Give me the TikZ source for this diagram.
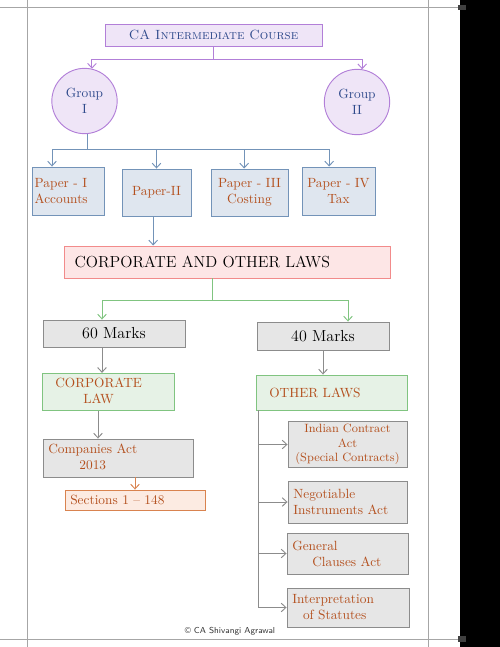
\documentclass[tikz,border=0pt]{standalone}
\usepackage{xcolor}
\usepackage{tikz}
\usetikzlibrary{shapes,arrows,arrows.meta,positioning,calc}

\definecolor{violetline}{HTML}{B27FD8}
\definecolor{violetfill}{HTML}{EFE5F7}
\definecolor{steelline}{HTML}{7393B8}
\definecolor{steelfill}{HTML}{DFE6EF}
\definecolor{redline}{HTML}{F28B8B}
\definecolor{redfill}{HTML}{FDE6E6}
\definecolor{greenline}{HTML}{80C480}
\definecolor{greenfill}{HTML}{E6F2E6}
\definecolor{greyline}{HTML}{8C8C8C}
\definecolor{greyfill}{HTML}{E6E6E6}
\definecolor{peachline}{HTML}{D9834F}
\definecolor{peachfill}{HTML}{FCEBE2}
\definecolor{inkblue}{HTML}{2F4A8C}
\definecolor{inkbrown}{HTML}{B4501E}

\begin{document}
\begin{tikzpicture}[x=0.75pt,y=-0.75pt,
    >={Straight Barb[length=3.5pt,width=6.5pt]},
    every node/.style={font=\normalsize, inner xsep=4pt, inner ysep=2pt},
    link/.style={line width=0.7pt},
    box/.style={draw, rectangle, line width=0.7pt, align=left, text=inkbrown},
    titlebox/.style={box, draw=violetline, fill=violetfill, text=inkblue, align=center},
    groupnode/.style={draw=violetline, fill=violetfill, circle, line width=0.7pt, inner sep=0pt, minimum size=49pt, text=inkblue, align=center},
    paperbox/.style={box, draw=steelline, fill=steelfill, inner xsep=2pt},
    lawbox/.style={box, draw=redline, fill=redfill, text=black, font=\large},
    markbox/.style={box, draw=greyline, fill=greyfill, text=black, font=\large, align=center},
    subbox/.style={box, draw=greenline, fill=greenfill},
    actbox/.style={box, draw=greyline, fill=greyfill},
    secbox/.style={box, draw=peachline, fill=peachfill},
    frame/.style={draw=black!35, line width=0.7pt}
]
\useasboundingbox (0,0) rectangle (500,647);

% page frame
\draw[frame] (0,7) -- (460,7);
\draw[frame] (0,639) -- (460,639);
\draw[frame] (27,0) -- (27,647);
\draw[frame] (428,0) -- (428,647);
\fill[black] (460,0) rectangle (500,647);
\fill[black!75] (458,5) rectangle (466,10);
\fill[black!75] (458,636) rectangle (466,642);

% course and groups
\node[titlebox, minimum width=162.75pt, minimum height=16.5pt] (course) at (213.5,35) {\textsc{CA Intermediate Course}};
\node[groupnode] (g1) at (84.5,101) {Group\\I};
\node[groupnode] (g2) at (357,102) {Group\\II};

% papers
\node[paperbox, text width=50pt, minimum height=36pt] (p1) at (68,191) {Paper - I\\Accounts};
\node[paperbox, text width=47.75pt, minimum height=35.25pt, align=center] (p2) at (156.5,192.5) {Paper-II\\[8pt]};
\node[paperbox, text width=53.75pt, minimum height=35.25pt, align=center] (p3) at (249.5,192.5) {Paper - III\\Costing};
\node[paperbox, text width=50.75pt, minimum height=36pt, align=center] (p4) at (338.5,191) {Paper - IV\\Tax};

% corporate and other laws
\node[lawbox, text width=228.5pt, inner xsep=8pt, minimum height=24pt] (corp) at (227,262) {CORPORATE AND OTHER LAWS};
\node[markbox, minimum width=106.5pt, minimum height=20.25pt] (m60) at (114,333.5) {60 Marks};
\node[markbox, minimum width=99pt, minimum height=21pt] (m40) at (323,336) {40 Marks};

\node[subbox, text width=91pt, minimum height=27pt] (cl) at (108,392) {\hspace{6pt}\begin{tabular}{@{}c@{}}CORPORATE\\LAW\end{tabular}};
\node[subbox, text width=105.25pt, minimum height=26.25pt] (ol) at (331.5,392.5) {\hspace{6pt}OTHER LAWS\\[6pt]};
\node[actbox, text width=104.5pt, minimum height=28.5pt] (ca) at (118,458) {\begin{tabular}{@{}c@{}}Companies Act\\2013\end{tabular}};
\node[secbox, text width=97pt, minimum height=15pt] (sec) at (135,500) {Sections 1 -- 148};

\node[actbox, text width=85.25pt, inner xsep=2pt, minimum height=33.75pt, align=center, font=\small] (ica) at (347.5,444.5) {Indian Contract\\Act\\(Special Contracts)};
\node[actbox, text width=81.25pt, minimum height=31.5pt] (nia) at (347.5,502) {Negotiable\\Instruments Act};
\node[actbox, text width=82.75pt, minimum height=30.75pt] (gca) at (347.5,553.5) {General\\\hspace{1.5em}Clauses Act};
\node[actbox, text width=83.5pt, minimum height=29.25pt] (ios) at (348,607.5) {Interpretation\\\hspace{0.8em}of Statutes};

\node[font=\sffamily\fontsize{6.5}{7}\selectfont, text=black!80] (copy) at (230,631) {\textcopyright\ CA Shivangi Agrawal};

% connectors
\draw[violetline, link] (course.south) -- ++(0,13) coordinate (cj);
\draw[->, violetline, link] (cj) -| (g1.77);
\draw[->, violetline, link] (cj) -| (g2.81);

\draw[steelline, link] (g1.-85) -- ++(0,15) coordinate (pj);
\foreach \n/\s in {p1/-12pt, p2/0pt, p3/-4pt, p4/-7pt}
    \draw[->, steelline, link] (pj) -| ([xshift=\s]\n.north);
\draw[->, steelline, link] ([xshift=-2.5pt]p2.south) -- ([xshift=-2.5pt]p2.south |- corp.north);

\draw[greenline, link] ([xshift=-11.25pt]corp.south) -- ++(0,22) coordinate (mj);
\draw[->, greenline, link] (mj) -| ([xshift=-9pt]m60.north);
\draw[->, greenline, link] (mj) -| ([xshift=18.75pt]m40.north);

\draw[->, greyline, link] ([xshift=-9pt]m60.south) -- ([xshift=-9pt]m60.south |- cl.north);
\draw[->, greyline, link] (m40.south) -- (m40.south |- ol.north);
\draw[->, greyline, link] ([xshift=-7.5pt]cl.south) -- ([xshift=-7.5pt]cl.south |- ca.north);
\draw[->, peachline, link] (sec.north |- ca.south) -- (sec.north);

\coordinate (spine) at ([xshift=2.25pt]ol.south west);
\draw[greyline, link] (spine) -- (spine |- ios.west);
\foreach \n in {ica,nia,gca,ios}
    \draw[->, greyline, link] (spine |- \n.west) -- (\n.west);
\end{tikzpicture}
\end{document}
